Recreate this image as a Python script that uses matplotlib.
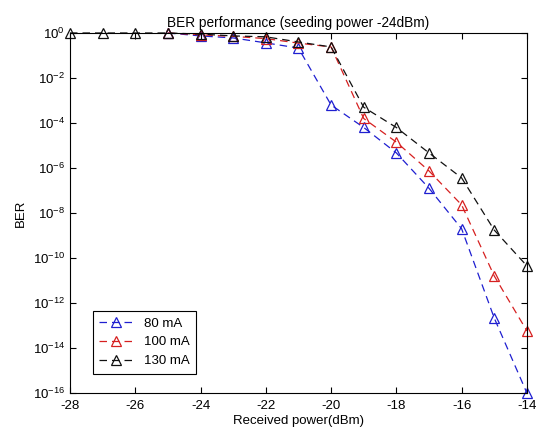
import numpy as np
import matplotlib
matplotlib.use("Agg")
import matplotlib.pyplot as plt
from matplotlib.ticker import FixedLocator, NullLocator

plt.rcParams['font.family'] = ['Liberation Sans', 'DejaVu Sans']

# Received power (dBm)
power_black = [-28, -27, -26, -25, -24, -23, -22, -21, -20, -19, -18, -17, -16, -15, -14]
power_color = [-25, -24, -23, -22, -21, -20, -19, -18, -17, -16, -15, -14]

# log10(BER)
log_ber_80 = [0.0, -0.13, -0.22, -0.44, -0.67, -3.2, -4.2, -5.33, -6.9, -8.7, -12.67, -16.0]
log_ber_100 = [0.0, -0.08, -0.15, -0.25, -0.45, -0.62, -3.8, -4.85, -6.13, -7.64, -10.8, -13.24]
log_ber_130 = [0.0, 0.0, 0.0, 0.0, -0.05, -0.13, -0.17, -0.4, -0.62, -3.3, -4.2, -5.33,
               -6.44, -8.76, -10.35]

labels = ["80 mA", "100 mA", "130 mA"]
colors = ["#1f1fd0", "#d62020", "#111111"]

fig = plt.figure(figsize=(5.36, 4.34), dpi=100)
ax = fig.add_axes([0.1306, 0.0945, 0.8524, 0.8295])

series = [(power_color, log_ber_80), (power_color, log_ber_100), (power_black, log_ber_130)]
for (x, y), lab, c in zip(series, labels, colors):
    ax.semilogy(x, 10.0 ** np.array(y), linestyle=(0, (6, 4)), color=c, lw=0.9,
                marker="^", markersize=7, markerfacecolor="none",
                markeredgecolor=c, markeredgewidth=0.9, label=lab, clip_on=False)

ax.set_xlim(-28, -14)
ax.set_ylim(1e-16, 1)
ax.set_xticks(range(-28, -13, 2))
ax.set_xticklabels([str(v) for v in range(-28, -13, 2)])
ax.yaxis.set_major_locator(FixedLocator([10.0 ** k for k in range(-16, 1, 2)]))
ax.yaxis.set_minor_locator(NullLocator())
ax.tick_params(direction="in", top=True, right=True, labelsize=9.5, length=4, width=0.8)
ax.tick_params(axis="x", pad=5)
for s in ax.spines.values():
    s.set_linewidth(0.8)

ax.set_title("BER performance (seeding power -24dBm)", fontsize=9.8, pad=4)
ax.set_xlabel("Received power(dBm)", fontsize=9.5, labelpad=2)
ax.set_ylabel("BER", fontsize=9.5, labelpad=4)

leg = ax.legend(loc="lower left", bbox_to_anchor=(0.035, 0.035), fontsize=9.5,
                fancybox=False, edgecolor="black", framealpha=1,
                handlelength=2.6, borderpad=0.5, labelspacing=0.5)
leg.get_frame().set_linewidth(0.8)

fig.savefig("out.png", dpi=100)
